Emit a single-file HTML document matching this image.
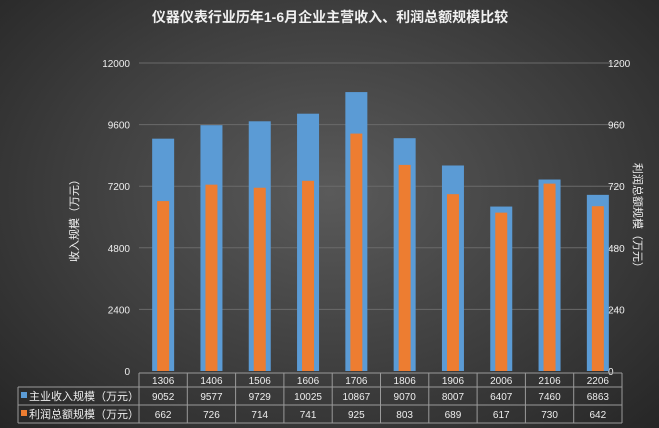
<!DOCTYPE html>
<html><head><meta charset="utf-8"><style>
body{margin:0;width:659px;height:428px;overflow:hidden;background:radial-gradient(ellipse at 50% 45%,#5a5a5a 0%,#3e3e3e 55%,#262626 100%);font-family:"Liberation Sans","Noto Sans CJK SC",sans-serif;}
svg{position:absolute;left:0;top:0}
</style></head><body>
<svg width="659" height="428" id="c">
<text x="330" y="22" fill="#f0f0f0" font-size="14" font-weight="bold" text-anchor="middle">仪器仪表行业历年1-6月企业主营收入、利润总额规模比较</text>
<text transform="translate(78,218) rotate(-90)" fill="#eee" font-size="11" text-anchor="middle">收入规模（万元）</text>
<text transform="translate(634,218) rotate(90)" fill="#eee" font-size="11" text-anchor="middle">利润总额规模（万元）</text>
<g id="g"></g>
</svg>
<script>
const categories=["1306","1406","1506","1606","1706","1806","1906","2006","2106","2206"];
const revenue=[9052,9577,9729,10025,10867,9070,8007,6407,7460,6863];
const profit=[662,726,714,741,925,803,689,617,730,642];
const leftTicks=[0,2400,4800,7200,9600,12000];
const rightTicks=[0,240,480,720,960,1200];
const NS="http://www.w3.org/2000/svg";
const g=document.getElementById('g');
const x0=139,x1=622,yTop=63,yBot=371;
const cw=(x1-x0)/categories.length;
const yL=v=>yBot-(v/12000)*(yBot-yTop);
const yR=v=>yBot-(v/1200)*(yBot-yTop);
const cx=i=>x0+cw*(i+0.5);
function el(t,a,txt){const e=document.createElementNS(NS,t);for(const k in a)e.setAttribute(k,a[k]);if(txt!=null)e.textContent=txt;g.appendChild(e);return e;}
leftTicks.forEach((t,i)=>{
 if(t>0){const l=el('line',{x1:x0,x2:x1,y1:yL(t),y2:yL(t),stroke:'#6a6a6a','stroke-width':1});
 
 }
 const a=el('text',{x:130,y:yL(t)+4,fill:'#eee','font-size':10,'text-anchor':'end'},t);
 
 
 const b=el('text',{x:608,y:yR(rightTicks[i])+4,fill:'#eee','font-size':10},rightTicks[i]);
 
 
});
categories.forEach((c,i)=>{
 const r=el('rect',{x:cx(i)-11,y:yL(revenue[i]),width:22,height:yBot-yL(revenue[i]),fill:'#5b9bd5'});
 
 
 const p=el('rect',{x:cx(i)-6,y:yR(profit[i]),width:12,height:yBot-yR(profit[i]),fill:'#ed7d31'});
 
 
});
// table
const rows=[373,387,405,423];
const grid='#9a9a9a';
el('line',{x1:x0,x2:x1,y1:rows[0],y2:rows[0],stroke:grid});
[1,2,3].forEach(k=>el('line',{x1:18,x2:x1,y1:rows[k],y2:rows[k],stroke:grid}));
el('line',{x1:18,x2:18,y1:rows[1],y2:rows[3],stroke:grid});
for(let i=0;i<=categories.length;i++)el('line',{x1:x0+cw*i,x2:x0+cw*i,y1:rows[0],y2:rows[3],stroke:grid});
categories.forEach((c,i)=>{
 const h=el('text',{x:cx(i),y:384,fill:'#eee','font-size':10,'text-anchor':'middle'},c);
 
 
 const a=el('text',{x:cx(i),y:400,fill:'#eee','font-size':10,'text-anchor':'middle'},revenue[i]);
 
 
 const b=el('text',{x:cx(i),y:418,fill:'#eee','font-size':10,'text-anchor':'middle'},profit[i]);
 
 
});
const k1=el('rect',{x:21,y:392,width:6,height:6,fill:'#5b9bd5'});


const t1=el('text',{x:29,y:400,fill:'#eee','font-size':11},'主业收入规模（万元）');


const k2=el('rect',{x:21,y:410,width:6,height:6,fill:'#ed7d31'});


const t2=el('text',{x:29,y:418,fill:'#eee','font-size':11},'利润总额规模（万元）');


</script>
</body></html>
